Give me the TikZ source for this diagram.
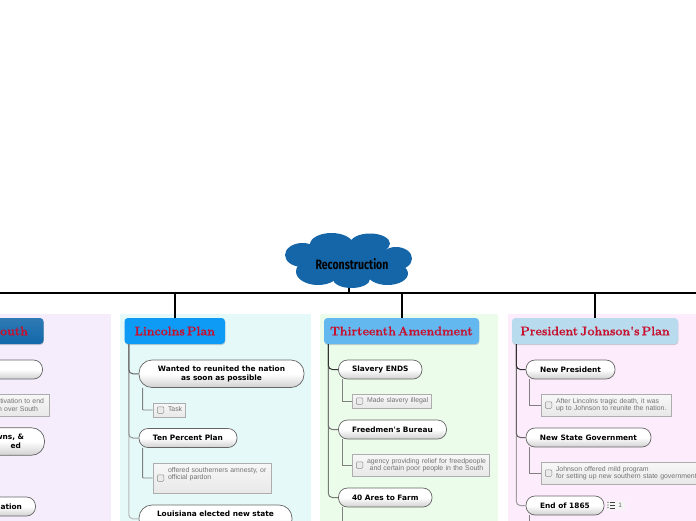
\documentclass[tikz,border=0pt]{standalone}
\usepackage{fontspec}
\usetikzlibrary{shadows,calc}
\newfontfamily\topicfont{DejaVu Sans}
\newfontfamily\notefont{Liberation Sans}
\newfontfamily\rootfont[FakeStretch=0.78]{Fira Sans}
\newfontfamily\titlefont[WordSpace=0.45,BoldFeatures={FakeBold=0.5}]{Latin Modern Roman}
\definecolor{pa}{HTML}{F5ECFC}
\definecolor{pb}{HTML}{E4F9F8}
\definecolor{pc}{HTML}{EBFCEA}
\definecolor{pd}{HTML}{FCECFC}
\definecolor{ta}{HTML}{1268AA}
\definecolor{tb}{HTML}{0D9BF5}
\definecolor{tc}{HTML}{63B8F0}
\definecolor{td}{HTML}{B8DCEE}
\definecolor{crim}{HTML}{C8102E}
\definecolor{cloudc}{HTML}{1566A8}
\newcommand\nlines[1]{\hspace*{15pt}\begin{tabular}[c]{@{}l@{}}#1\end{tabular}}
\newcommand\clines[1]{\hspace*{15pt}\begin{tabular}[c]{@{}c@{}}#1\end{tabular}}
\newcommand\rpad[1]{\hspace*{#1}\mbox{}}
\tikzset{
  panel/.style={draw=none},
  titlebox/.style={rectangle,rounded corners=3.5pt,minimum height=26pt,inner sep=0pt,
    font=\titlefont\bfseries\fontsize{12.4}{14}\selectfont,text=crim,
    drop shadow={shadow xshift=0.4pt,shadow yshift=-1pt,opacity=.35}},
  topic/.style={rectangle,rounded corners=9pt,draw=black!60,line width=.7pt,inner sep=0pt,
    minimum height=19pt,top color=white,bottom color=black!18,middle color=white,
    font=\topicfont\bfseries\fontsize{7.4}{9.2}\selectfont,text=black,align=center},
  tall/.style={rounded corners=13pt,minimum height=27.5pt},
  notebox/.style={rectangle,draw=black!32,line width=.8pt,inner xsep=0pt,inner ysep=0pt,
    top color=black!3,bottom color=black!9,
    font=\notefont\fontsize{6.9}{8}\selectfont,text=black!55},
  chk/.style={rectangle,rounded corners=1pt,draw=black!45,line width=.5pt,fill=white!92!black,
    minimum size=6.5pt,inner sep=0pt},
  bus/.style={draw=black,line width=1.8pt},
  branch/.style={rounded corners=4pt,line width=1pt},
  twig/.style={line width=.9pt},
}
\renewcommand\arraystretch{0.82}
\setlength{\tabcolsep}{0pt}
\begin{document}
\begin{tikzpicture}[x=1pt,y=-1pt]
\path[use as bounding box,clip] (0,0) rectangle (696,520);
\fill[white] (0,0) rectangle (696,520);
% panels
\fill[pa] (-10,314) rectangle (111,530);
\fill[pb] (120,314) rectangle (310.5,530);
\fill[pc] (320,314) rectangle (498,530);
\fill[pd] (507.5,314) rectangle (706,530);
% cloud
\begin{scope}
\fill[cloudc] (302.5,255) ellipse (17.5 and 12);
\fill[cloudc] (331.5,244.5) ellipse (21.5 and 11.5);
\fill[cloudc] (370,243.5) ellipse (20 and 10);
\fill[cloudc] (396,258.5) ellipse (16 and 11.5);
\fill[cloudc] (387.5,273.5) ellipse (20.5 and 11.5);
\fill[cloudc] (351.5,279) ellipse (18.5 and 9);
\fill[cloudc] (318,271.5) ellipse (22 and 13.5);
\fill[cloudc] (349,261) ellipse (44 and 20);
\end{scope}
\coordinate (cloudb) at (349,288);
\node[font=\rootfont\bfseries\fontsize{13.5}{15}\selectfont,text=black,inner sep=0pt] (root) at (352,264) {Reconstruction};
% bus
\coordinate (busl) at (-5,292.7);
\coordinate (busr) at (701,292.7);
\draw[bus] (busl) -- (busr);
\draw[bus] (cloudb) -- (cloudb |- busl);
% titles
\node[titlebox,top color=ta!88!white,bottom color=ta,minimum width=123.5pt,text width=123.5pt,align=right] (ta) at (-18.25,331) {South\rpad{15.5pt}};
\node[titlebox,top color=tb,bottom color=tb,minimum width=100.5pt] (tb) at (174.75,331) {Lincolns Plan};
\node[titlebox,top color=tc,bottom color=tc,minimum width=155pt] (tc) at (401.5,331) {Thirteenth Amendment};
\node[titlebox,top color=td,bottom color=td,minimum width=166pt] (td) at (595,331) {President Johnson's Plan};
\draw[bus] (tb.north |- busl) -- (tb.north);
\draw[bus] ([xshift=.4pt]tc.north |- busl) -- ([xshift=.4pt]tc.north);
\draw[bus] (td.north |- busl) -- (td.north);
% left column
\node[topic,minimum width=102.5pt] (a1) at (-8.75,369.5) {};
\node[notebox,minimum width=130pt,minimum height=22pt,text width=130pt,align=right] (a1n) at (-15.5,405) {tivation to end\rpad{5.5pt}\\n over South\rpad{11.5pt}};
\node[topic,tall,minimum width=105pt,text width=105pt,align=right] (a2) at (-8,441.5) {wns, \&\rpad{20.5pt}\\ed\rpad{23.5pt}};
\node[topic,minimum width=85.5pt,text width=85.5pt,align=right] (a3) at (-7.25,506.5) {ation\rpad{13.5pt}};
% Lincoln column
\node[topic,tall,minimum width=165pt] (b1) at (221.5,373.75) {Wanted to reunited the nation\\as soon as possible};
\node[notebox,minimum width=32pt,minimum height=14pt,text width=32pt] (b1n) at (169,410) {\nlines{Task}};
\node[chk] (b1c) at ([xshift=8pt]b1n.west) {};
\node[topic,minimum width=98pt] (b2) at (188,438) {Ten Percent Plan};
\node[notebox,minimum width=118pt,minimum height=30pt,text width=118pt] (b2n) at (212,478) {\nlines{offered southerners amnesty, or\\official pardon\\~}};
\node[chk] (b2c) at ([xshift=8pt]b2n.west) {};
\node[topic,tall,minimum width=153pt] (b3) at (215.5,518.75) {Louisiana elected new state\\~};
\draw[branch,draw=black!28] ([xshift=4.5pt]tb.south west) |- (b3.west);
\draw[branch,draw=black!42] ([xshift=4.5pt]tb.south west) |- (b2.west);
\draw[branch,draw=black!62] ([xshift=4.5pt]tb.south west) |- (b1.west);
\draw[twig,draw=black!50,rounded corners=.5pt] ([xshift=4pt]b1.south west) |- (b1n.west);
\draw[twig,draw=black!50,rounded corners=.5pt] ([xshift=4pt]b2.south west) |- (b2n.west);
% Thirteenth column
\node[topic,minimum width=83.5pt] (c1) at (380.25,369.5) {Slavery ENDS};
\node[notebox,minimum width=79pt,minimum height=14pt,text width=79pt] (c1n) at (391.5,401) {\nlines{Made slavery illegal}};
\node[chk] (c1c) at ([xshift=8pt]c1n.west) {};
\node[topic,minimum width=108pt] (c2) at (392.5,429.5) {Freedmen's Bureau};
\node[notebox,minimum width=137pt,minimum height=22pt,text width=137pt] (c2n) at (420.5,465) {\clines{agency providing relief for freedpeople\\and certain poor people in the South}};
\node[chk] (c2c) at ([xshift=8pt]c2n.west) {};
\node[topic,minimum width=93.5pt] (c3) at (385.25,497.5) {40 Ares to Farm};
\coordinate (c3end) at ([xshift=4pt]c3.south west |- 0,525);
\draw[branch,draw=black!38!pc!80!black] ([xshift=4.5pt]tc.south west) |- (c3.west);
\draw[branch,draw=black!55] ([xshift=4.5pt]tc.south west) |- (c2.west);
\draw[branch,draw=black!80] ([xshift=4.5pt]tc.south west) |- (c1.west);
\draw[twig,draw=black!50] ([xshift=4pt]c1.south west) |- (c1n.west);
\draw[twig,draw=black!50] ([xshift=4pt]c2.south west) |- (c2n.west);
\draw[twig,draw=black!50] ([xshift=4pt]c3.south west) -- (c3end);
% Johnson column
\node[topic,minimum width=89pt] (d1) at (570.5,369.5) {New President};
\node[notebox,minimum width=130pt,minimum height=22pt,text width=130pt] (d1n) at (606,405) {\nlines{After Lincolns tragic death, it was\\up to Johnson to reunite the nation.}};
\node[chk] (d1c) at ([xshift=8pt]d1n.west) {};
\node[topic,minimum width=125pt] (d2) at (588.5,437.5) {New State Government};
\node[notebox,minimum width=170pt,minimum height=22pt,text width=170pt] (d2n) at (626,473) {\nlines{Johnson offered mild program\\for setting up new southern state governments}};
\node[chk] (d2c) at ([xshift=8pt]d2n.west) {};
\node[topic,minimum width=78pt] (d3) at (565,505.5) {End of 1865};
\coordinate (d3end) at ([xshift=4pt]d3.south west |- 0,525);
\draw[branch,draw=black!38] ([xshift=4.5pt]td.south west) |- (d3.west);
\draw[branch,draw=black!60] ([xshift=4.5pt]td.south west) |- (d2.west);
\draw[branch,draw=black!82] ([xshift=4.5pt]td.south west) |- (d1.west);
\draw[twig,draw=black!50] ([xshift=4pt]d1.south west) |- (d1n.west);
\draw[twig,draw=black!50] ([xshift=4pt]d2.south west) |- (d2n.west);
\draw[twig,draw=black!50] ([xshift=4pt]d3.south west) -- (d3end);
% count badge
\node[rectangle,fill=black!4,minimum width=18pt,minimum height=9pt,inner sep=0pt,font=\notefont\fontsize{6.5}{8}\selectfont,text=black!60,text width=16pt,align=right] (d3b) at (615.5,505) {1\rpad{1.5pt}};
\draw[black!75,line width=.6pt] (610,502.2) -- (615,502.2) (610,505) -- (615,505) (610,507.8) -- (615,507.8);
\fill[black!75] (608,502.2) circle (.6) (608,505) circle (.6) (608,507.8) circle (.6);
\end{tikzpicture}
\end{document}
